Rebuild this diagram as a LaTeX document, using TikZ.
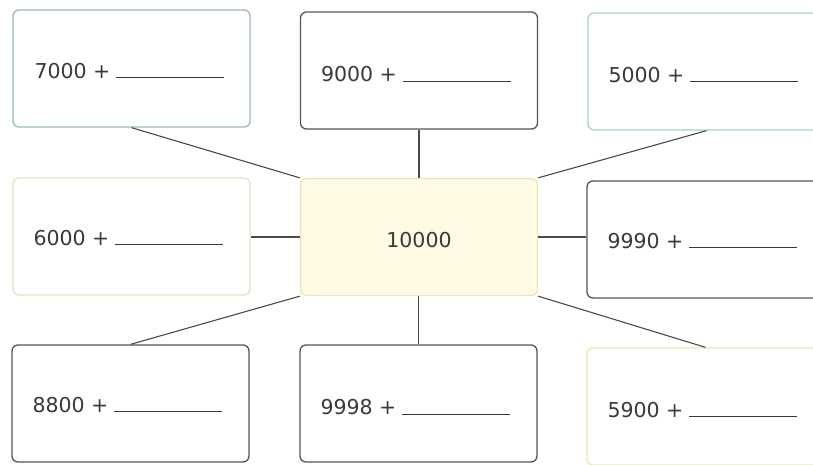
\documentclass[tikz,border=0pt]{standalone}
\usepackage{fontspec}
\setmainfont{DejaVu Sans}
\definecolor{txt}{HTML}{3A3A3A}
\definecolor{dark}{HTML}{555555}
\definecolor{greenb}{HTML}{9DBBA8}
\definecolor{tealb}{HTML}{A8D0CF}
\definecolor{beigeb}{HTML}{E6E2BE}
\definecolor{yellowb}{HTML}{EDE7AE}
\definecolor{cfill}{HTML}{FEFAE4}
\definecolor{cborder}{HTML}{EEE4B8}
\definecolor{conn}{HTML}{4A4A4A}
\tikzset{
  card/.style={draw=#1, line width=1.3pt, rounded corners=6pt, minimum width=237pt, minimum height=117pt, inner sep=0pt},
  lbl/.style={anchor=base west, inner sep=0pt, text=txt, font=\fontsize{20.5}{24}\selectfont},
  link/.style={draw=conn, line width=1.1pt},
}
\newcommand{\blank}{\hspace{6pt}\rule{108pt}{0.8pt}}
\begin{document}
\begin{tikzpicture}[x=1pt,y=-1pt]
\clip (0,0) rectangle (813,464);
\fill[white] (0,0) rectangle (813,464);
% boxes
\node[card=greenb]  (tl) at (131.5,68.5) {};
\node[card=dark]    (tm) at (419,70.5) {};
\node[card=tealb]   (tr) at (706.5,71.5) {};
\node[card=beigeb]  (ml) at (131.5,236.5) {};
\node[card=cborder, fill=cfill] (c) at (419,237) {};
\node[card=dark]    (mr) at (705.5,239.5) {};
\node[card=dark]    (bl) at (130.5,403.5) {};
\node[card=dark]    (bm) at (418.5,403.5) {};
\node[card=yellowb] (br) at (705.5,406.5) {};
% labels
\node[lbl] (tlt) at ([xshift=22pt,yshift=-9.5pt]tl.west) {7000 +\blank};
\node[lbl] (tmt) at ([xshift=21pt,yshift=-11pt]tm.west) {9000 +\blank};
\node[lbl] (trt) at ([xshift=21pt,yshift=-10.5pt]tr.west) {5000 +\blank};
\node[lbl] (mlt) at ([xshift=21pt,yshift=-8.5pt]ml.west) {6000 +\blank};
\node[lbl,anchor=base] (ct) at ([yshift=-10pt]c.center) {10000};
\node[lbl] (mrt) at ([xshift=21pt,yshift=-8.5pt]mr.west) {9990 +\blank};
\node[lbl] (blt) at ([xshift=21pt,yshift=-8.5pt]bl.west) {8800 +\blank};
\node[lbl] (bmt) at ([xshift=21pt,yshift=-11pt]bm.west) {9998 +\blank};
\node[lbl] (brt) at ([xshift=21pt,yshift=-10.5pt]br.west) {5900 +\blank};
% connectors
\draw[link] (tl.south) -- (c.north west);
\draw[link] (tm.south) -- (tm.south |- c.north);
\draw[link] (tr.south) -- (c.north east);
\draw[link] (c.west) -- (c.west -| ml.east);
\draw[link] (c.east) -- (c.east -| mr.west);
\draw[link] (bl.north) -- (c.south west);
\draw[link] (bm.north) -- (bm.north |- c.south);
\draw[link] (br.north) -- (c.south east);
\end{tikzpicture}
\end{document}
